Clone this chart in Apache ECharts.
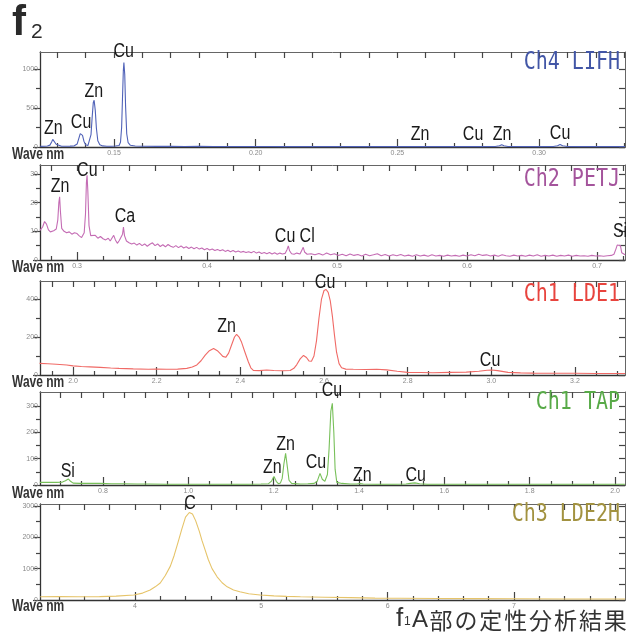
<!DOCTYPE html>
<html>
<head>
<meta charset="utf-8">
<script src="https://cdn.jsdelivr.net/npm/echarts@6/dist/echarts.min.js"></script>
<style>
html,body{margin:0;padding:0;background:#fff;}
#chart{width:632px;height:632px;}
</style>
</head>
<body>
<div id="chart"></div>
<script>
// ---------------- DATA ----------------
// Ch4 LIFH spectrum [wavelength nm, counts]
const lifhSpectrum = [
 [0.1240,8],[0.1255,10],[0.1265,13],[0.1274,24],[0.1280,65],[0.1284,98],[0.1287,105],[0.1291,80],[0.1296,35],[0.1302,15],[0.1315,10],[0.1330,9],[0.1345,11],[0.1360,15],[0.1370,38],[0.1376,110],[0.1381,172],[0.1385,185],[0.1389,150],[0.1394,75],[0.1400,28],[0.1408,18],[0.1414,38],[0.1419,160],[0.1423,380],[0.1427,570],[0.1430,600],[0.1434,470],[0.1438,240],[0.1443,80],[0.1450,28],[0.1460,14],[0.1475,10],[0.1490,10],[0.1505,12],[0.1518,20],[0.1523,60],[0.1527,250],[0.1530,620],[0.1533,980],[0.1535,1085],[0.1538,930],[0.1541,520],[0.1545,170],[0.1550,55],[0.1558,22],[0.1575,13],[0.1600,10],[0.1650,8],[0.1700,8],[0.1750,7],[0.1800,8],[0.1850,7],[0.1900,6],[0.1950,7],[0.2000,6],[0.2050,6],[0.2100,5],[0.2150,6],[0.2200,5],[0.2250,5],[0.2300,6],[0.2350,5],[0.2400,5],[0.2450,5],[0.2500,5],[0.2550,5],[0.2600,6],[0.2650,5],[0.2700,5],[0.2750,6],[0.2800,5],[0.2845,6],[0.2860,16],[0.2868,28],[0.2876,16],[0.2890,6],[0.2950,5],[0.3000,5],[0.3050,6],[0.3065,16],[0.3074,32],[0.3083,16],[0.3100,6],[0.3150,5],[0.3200,5],[0.3250,5],[0.3303,5]
];
const lifhLabels = [['Zn',0.1286,145],['Cu',0.1384,220],['Zn',0.1429,625],['Cu',0.1534,1140],['Zn',0.2580,68],['Cu',0.2767,68],['Zn',0.2869,68],['Cu',0.3074,88]];
const lifhXMajor = [0.15,0.20,0.25,0.30];
const lifhXMinor = [0.13,0.14,0.16,0.17,0.18,0.19,0.21,0.22,0.23,0.24,0.26,0.27,0.28,0.29,0.31,0.32,0.33];
const lifhYMajor = [0,500,1000];
const lifhYMinor = [250,750];

// Ch2 PETJ spectrum
const petjSpectrum = [
 [0.2715,10.3],[0.2735,11.5],[0.2750,13.4],[0.2765,12.5],[0.2780,10.5],[0.2795,9.8],[0.2820,10.2],[0.2840,10.8],[0.2852,14],[0.2860,20],[0.2866,22],[0.2872,17],[0.2882,11],[0.2900,10],[0.2920,9.5],[0.2940,9.8],[0.2960,9.0],[0.2980,9.5],[0.3000,9.2],[0.3015,8.5],[0.3035,7.8],[0.3055,9.5],[0.3065,16],[0.3072,27],[0.3077,29.5],[0.3083,24],[0.3092,12],[0.3105,8.5],[0.3120,8.0],[0.3140,8.6],[0.3160,7.6],[0.3180,8.2],[0.3200,7.4],[0.3220,7.0],[0.3240,7.6],[0.3255,6.6],[0.3270,7.2],[0.3282,8.6],[0.3295,7.0],[0.3310,5.8],[0.3325,6.8],[0.3340,6.2],[0.3350,9],[0.3357,11.5],[0.3365,8.5],[0.3380,6.6],[0.3400,6.0],[0.3420,5.6],[0.3440,5.9],[0.3460,5.2],[0.3480,5.8],[0.3500,5.0],[0.3520,5.6],[0.3540,4.8],[0.3560,5.5],[0.3580,6.0],[0.3600,5.0],[0.3620,5.6],[0.3640,4.7],[0.3660,5.3],[0.3680,4.6],[0.3700,5.4],[0.3720,4.8],[0.3740,4.4],[0.3760,5.0],[0.3780,4.3],[0.3800,4.9],[0.3820,4.2],[0.3840,4.6],[0.3860,4.0],[0.3880,4.5],[0.3900,3.9],[0.3920,4.4],[0.3940,3.8],[0.3960,4.2],[0.3980,3.6],[0.4000,4.0],[0.4020,3.5],[0.4040,3.8],[0.4060,3.3],[0.4080,3.7],[0.4100,3.2],[0.4120,3.6],[0.4140,3.0],[0.4160,3.4],[0.4180,2.9],[0.4200,3.3],[0.4220,2.8],[0.4240,3.1],[0.4260,2.7],[0.4280,3.0],[0.4300,2.6],[0.4320,2.9],[0.4340,2.5],[0.4360,3.0],[0.4380,2.4],[0.4400,2.8],[0.4420,2.3],[0.4440,2.6],[0.4460,2.2],[0.4480,2.6],[0.4500,2.1],[0.4520,2.5],[0.4540,2.0],[0.4560,2.4],[0.4580,2.1],[0.4600,2.3],[0.4615,3.6],[0.4625,4.9],[0.4635,3.2],[0.4650,2.2],[0.4670,2.0],[0.4690,2.4],[0.4715,2.1],[0.4730,3.5],[0.4740,4.4],[0.4750,2.8],[0.4770,2.0],[0.4800,2.2],[0.4830,1.8],[0.4860,2.3],[0.4890,1.7],[0.4920,2.4],[0.4950,1.8],[0.4980,2.2],[0.5010,1.6],[0.5040,2.0],[0.5070,1.5],[0.5100,2.1],[0.5130,1.6],[0.5160,1.9],[0.5190,1.4],[0.5220,2.0],[0.5250,1.5],[0.5280,1.8],[0.5310,2.2],[0.5340,1.5],[0.5370,1.9],[0.5400,1.4],[0.5430,1.8],[0.5460,1.5],[0.5490,1.9],[0.5520,1.4],[0.5550,1.7],[0.5580,1.3],[0.5610,1.8],[0.5640,1.4],[0.5670,1.7],[0.5700,1.3],[0.5730,1.8],[0.5760,1.4],[0.5790,1.6],[0.5820,1.3],[0.5850,1.7],[0.5880,1.4],[0.5910,1.6],[0.5940,1.3],[0.5970,1.7],[0.6000,1.4],[0.6030,1.8],[0.6060,1.5],[0.6090,2.0],[0.6120,1.6],[0.6150,1.8],[0.6180,1.4],[0.6210,1.7],[0.6240,1.3],[0.6270,1.8],[0.6300,1.5],[0.6330,1.3],[0.6360,1.7],[0.6390,1.4],[0.6420,1.6],[0.6450,1.3],[0.6480,1.7],[0.6510,1.4],[0.6540,1.8],[0.6570,1.3],[0.6600,1.6],[0.6630,1.4],[0.6660,1.7],[0.6690,1.3],[0.6720,1.6],[0.6750,1.4],[0.6780,1.7],[0.6810,1.3],[0.6840,1.6],[0.6870,1.4],[0.6900,1.5],[0.6930,1.3],[0.6960,1.6],[0.6990,1.4],[0.7020,1.5],[0.7050,1.3],[0.7080,1.5],[0.7110,1.6],[0.7130,2.0],[0.7145,3.8],[0.7155,5.2],[0.7180,5.0],[0.7190,2.5],[0.7215,1.8]
];
const petjLabels = [['Zn',0.2869,23],['Cu',0.3079,28.7],['Ca',0.3369,12.6],['Cu',0.4600,5.7],['Cl',0.4770,5.7],['Si',0.7177,7.5]];
const petjXMajor = [0.3,0.4,0.5,0.6,0.7];
const petjXMinor = [0.28,0.32,0.34,0.36,0.38,0.42,0.44,0.46,0.48,0.52,0.54,0.56,0.58,0.62,0.64,0.66,0.68,0.72];
const petjYMajor = [0,10,20,30];
const petjYMinor = [5,15,25];

// Ch1 LDE1 spectrum
const lde1Spectrum = [
 [1.920,61],[1.940,59],[1.960,57],[1.985,53],[2.000,48],[2.020,45],[2.040,43],[2.065,40],[2.090,37],[2.110,35],[2.144,32],[2.180,30],[2.200,31],[2.224,30],[2.250,31],[2.272,35],[2.285,42],[2.296,53],[2.306,75],[2.316,105],[2.326,128],[2.336,140],[2.345,128],[2.352,112],[2.358,98],[2.365,93],[2.372,115],[2.379,158],[2.386,200],[2.391,214],[2.397,200],[2.403,172],[2.411,120],[2.419,70],[2.425,38],[2.431,24],[2.445,23],[2.463,26],[2.480,24],[2.500,22],[2.519,24],[2.528,35],[2.535,55],[2.543,85],[2.551,103],[2.558,92],[2.564,74],[2.570,72],[2.576,100],[2.582,180],[2.588,300],[2.594,400],[2.600,445],[2.605,450],[2.610,435],[2.615,390],[2.620,310],[2.625,210],[2.630,120],[2.636,60],[2.642,38],[2.652,31],[2.670,30],[2.700,29],[2.726,30],[2.750,27],[2.775,20],[2.800,14],[2.830,13],[2.860,12],[2.900,14],[2.940,15],[2.970,20],[2.990,25],[3.000,26],[3.015,23],[3.040,14],[3.070,11],[3.100,10],[3.150,9],[3.200,9],[3.250,8],[3.320,8]
];
const lde1Labels = [['Zn',2.367,221],['Cu',2.6025,450],['Cu',2.997,40]];
const lde1XMajor = [2.0,2.2,2.4,2.6,2.8,3.0,3.2];
const lde1XMinor = [1.95,2.05,2.1,2.15,2.25,2.3,2.35,2.45,2.5,2.55,2.65,2.7,2.75,2.85,2.9,2.95,3.05,3.1,3.15,3.25,3.3];
const lde1YMajor = [0,200,400];
const lde1YMinor = [100,300];

// Ch1 TAP spectrum
const tapSpectrum = [
 [0.652,10],[0.670,10],[0.690,10],[0.705,11],[0.712,16],[0.7187,23],[0.724,14],[0.730,7],[0.745,6],[0.770,6],[0.793,6],[0.820,5],[0.850,5],[0.880,4],[0.910,4],[0.949,3],[0.980,3],[1.010,3],[1.050,3],[1.080,3],[1.105,3],[1.140,3],[1.170,4],[1.188,5],[1.195,15],[1.2008,32],[1.206,14],[1.211,5],[1.216,8],[1.220,25],[1.224,80],[1.228,120],[1.232,70],[1.236,18],[1.242,6],[1.262,4],[1.280,5],[1.295,6],[1.302,14],[1.3086,44],[1.314,22],[1.320,14],[1.326,40],[1.330,140],[1.334,280],[1.3375,310],[1.341,200],[1.344,60],[1.348,10],[1.360,6],[1.380,4],[1.395,4],[1.402,6],[1.410,4],[1.440,3],[1.480,3],[1.510,4],[1.520,6],[1.531,8],[1.542,5],[1.560,3],[1.600,3],[1.650,3],[1.700,3],[1.750,3],[1.800,3],[1.850,3],[1.900,3],[1.950,3],[2.000,3],[2.023,3]
];
const tapLabels = [['Si',0.7175,26],['Zn',1.1969,38],['Zn',1.228,127],['Cu',1.299,57],['Cu',1.3366,331],['Zn',1.408,8],['Cu',1.533,10]];
const tapXMajor = [0.8,1.0,1.2,1.4,1.6,1.8,2.0];
const tapXMinor = [0.7,0.75,0.85,0.9,0.95,1.05,1.1,1.15,1.25,1.3,1.35,1.45,1.5,1.55,1.65,1.7,1.75,1.85,1.9,1.95];
const tapYMajor = [0,100,200,300];
const tapYMinor = [50,150,250];

// Ch3 LDE2H spectrum
const lde2hSpectrum = [
 [3.25,105],[3.40,106],[3.55,105],[3.72,108],[3.85,125],[3.99,160],[4.06,220],[4.12,320],[4.16,420],[4.20,540],[4.24,780],[4.28,1080],[4.31,1420],[4.34,1830],[4.37,2250],[4.40,2640],[4.43,2790],[4.455,2740],[4.48,2530],[4.51,2180],[4.53,1900],[4.555,1600],[4.58,1290],[4.61,1000],[4.65,740],[4.69,550],[4.73,420],[4.78,320],[4.83,265],[4.90,200],[4.99,160],[5.10,130],[5.20,115],[5.31,105],[5.50,90],[5.70,75],[5.90,60],[6.10,55],[6.40,50],[6.70,45],[7.00,40],[7.40,32],[7.88,30]
];
const lde2hLabels = [['C',4.435,2848]];
const lde2hXMajor = [4,5,6,7];
const lde2hXMinor = [3.4,3.6,3.8,4.2,4.4,4.6,4.8,5.2,5.4,5.6,5.8,6.2,6.4,6.6,6.8,7.2,7.4,7.6,7.8];
const lde2hYMajor = [0,1000,2000,3000];
const lde2hYMinor = [500,1500,2500];

const channelNames = ['Ch4 LIFH','Ch2 PETJ','Ch1 LDE1','Ch1 TAP','Ch3 LDE2H'];

// ---------------- LAYOUT / STYLE ----------------
const panels = [
 {data:lifhSpectrum, labels:lifhLabels, xMin:0.1239, xMax:0.3303, yMax:1220, xMajor:lifhXMajor, xMinor:lifhXMinor, yMajor:lifhYMajor, yMinor:lifhYMinor, digits:2, top:52, height:95, line:'#5062b8', title:'#4256a6', titleY:50, waveY:155},
 {data:petjSpectrum, labels:petjLabels, xMin:0.2715, xMax:0.7215, yMax:33.1, xMajor:petjXMajor, xMinor:petjXMinor, yMajor:petjYMajor, yMinor:petjYMinor, digits:1, top:165, height:95, line:'#c46cb4', title:'#a4549c', titleY:167, waveY:268},
 {data:lde1Spectrum, labels:lde1Labels, xMin:1.921, xMax:3.3196, yMax:495, xMajor:lde1XMajor, xMinor:lde1XMinor, yMajor:lde1YMajor, yMinor:lde1YMinor, digits:1, top:281, height:94, line:'#f06a66', title:'#e8443e', titleY:282, waveY:383},
 {data:tapSpectrum, labels:tapLabels, xMin:0.6524, xMax:2.0234, yMax:353, xMajor:tapXMajor, xMinor:tapXMinor, yMajor:tapYMajor, yMinor:tapYMinor, digits:1, top:392, height:93, line:'#78c05a', title:'#58aa48', titleY:390, waveY:494},
 {data:lde2hSpectrum, labels:lde2hLabels, xMin:3.248, xMax:7.879, yMax:3060, xMajor:lde2hXMajor, xMinor:lde2hXMinor, yMajor:lde2hYMajor, yMinor:lde2hYMinor, digits:0, top:504, height:96, line:'#e6c46a', title:'#a29240', titleY:502, waveY:607}
];

const AX = '#333';
const TK = '#444';
const grids = [], xAxes = [], yAxes = [], series = [];
panels.forEach((p,i)=>{
  grids.push({left:40, right:7, top:p.top, height:p.height, show:false});
  const base = {gridIndex:i, type:'value', min:p.xMin, max:p.xMax, splitLine:{show:false}, minorTick:{show:false}};
  xAxes.push(Object.assign({}, base, {position:'bottom',
    axisLine:{show:true, onZero:false, lineStyle:{color:AX, width:1.4}},
    axisTick:{show:true, inside:true, length:8, customValues:p.xMajor, lineStyle:{color:TK, width:1.2}},
    axisLabel:{show:true, customValues:p.xMajor, fontSize:7, color:'#8a8a8a', margin:3, fontFamily:'Liberation Sans', formatter:v=>Number(v).toFixed(p.digits)}}));
  xAxes.push(Object.assign({}, base, {position:'bottom',
    axisLine:{show:false, onZero:false},
    axisTick:{show:true, inside:true, length:4, customValues:p.xMinor, lineStyle:{color:TK, width:1.2}},
    axisLabel:{show:false}}));
  xAxes.push(Object.assign({}, base, {position:'top',
    axisLine:{show:true, onZero:false, lineStyle:{color:'#666', width:1}},
    axisTick:{show:true, inside:true, length:6, customValues:p.xMajor.concat(p.xMinor), lineStyle:{color:TK, width:1.2}},
    axisLabel:{show:false}}));
  const ybase = {gridIndex:i, type:'value', min:0, max:p.yMax, splitLine:{show:false}, minorTick:{show:false}};
  yAxes.push(Object.assign({}, ybase, {position:'left',
    axisLine:{show:true, onZero:false, lineStyle:{color:AX, width:1.3}},
    axisTick:{show:true, inside:false, length:7, customValues:p.yMajor, lineStyle:{color:TK, width:1.2}},
    axisLabel:{show:true, customValues:p.yMajor, fontSize:7, color:'#8a8a8a', margin:2, fontFamily:'Liberation Sans', formatter:v=>String(v)}}));
  yAxes.push(Object.assign({}, ybase, {position:'left',
    axisLine:{show:false, onZero:false},
    axisTick:{show:true, inside:false, length:4, customValues:p.yMinor, lineStyle:{color:TK, width:1.2}},
    axisLabel:{show:false}}));
  yAxes.push(Object.assign({}, ybase, {position:'right',
    axisLine:{show:true, onZero:false, lineStyle:{color:'#666', width:1}},
    axisTick:{show:true, inside:true, length:6, customValues:p.yMajor.concat(p.yMinor), lineStyle:{color:TK, width:1.2}},
    axisLabel:{show:false}}));
  series.push({type:'line', name:channelNames[i], xAxisIndex:i*3, yAxisIndex:i*3, data:p.data,
    showSymbol:false, symbol:'none', smooth:false, lineStyle:{color:p.line, width:1.1}, z:3});
});

const chart = echarts.init(document.getElementById('chart'), null, {renderer:'canvas'});
chart.setOption({animation:false, backgroundColor:'#fff', grid:grids, xAxis:xAxes, yAxis:yAxes, series:series});

// ---------------- TEXT (graphic) ----------------
const g = [];
function txt(o){ g.push(Object.assign({type:'text', z:20}, o)); }
// title f2
txt({x:12, y:2, style:{text:'f', font:'bold 42px "Liberation Sans"', fill:'#2a2a2a', textVerticalAlign:'top', verticalAlign:'top'}});
txt({x:31, y:22, style:{text:'2', font:'21px "Liberation Sans"', fill:'#2a2a2a', textVerticalAlign:'top', verticalAlign:'top'}});

panels.forEach((p,i)=>{
  // channel name
  txt({x:620, y:p.titleY, scaleY:1.25, style:{text:channelNames[i], font:'20px "DejaVu Sans Mono"', fill:p.title, textAlign:'right', align:'right', textVerticalAlign:'top', verticalAlign:'top'}});
  // wave nm
  txt({x:12, y:p.waveY, scaleY:1.35, style:{text:'Wave nm', font:'bold 12px "Liberation Sans"', fill:'#333', textVerticalAlign:'middle', verticalAlign:'middle'}});
  // element labels at data coordinates
  p.labels.forEach(([t,x,y])=>{
    const pt = chart.convertToPixel({xAxisIndex:i*3, yAxisIndex:i*3}, [x,y]);
    txt({x:pt[0], y:pt[1]+3, scaleY:1.25, style:{text:t, font:'16px "Liberation Sans"', fill:'#1a1a1a', textAlign:'center', align:'center', textVerticalAlign:'bottom', verticalAlign:'bottom'}});
  });
});

// bottom caption
txt({x:396, y:606, style:{text:'f', font:'26px "Liberation Sans"', fill:'#333', textVerticalAlign:'top', verticalAlign:'top'}});
txt({x:404, y:616, style:{text:'1', font:'12px "Liberation Sans"', fill:'#333', textVerticalAlign:'top', verticalAlign:'top'}});
txt({x:412, y:608, style:{text:'A', font:'24px "Liberation Sans"', fill:'#333', textVerticalAlign:'top', verticalAlign:'top'}});
const captionChars = '部の定性分析結果';
Array.from(captionChars).forEach((c,k)=>{
  txt({x:441 + k*24.9, y:620, style:{text:c, font:'23px "Noto Sans CJK JP"', fill:'#333', textAlign:'center', align:'center', textVerticalAlign:'middle', verticalAlign:'middle'}});
});
chart.setOption({graphic:{elements:g}});
</script>
</body>
</html>
